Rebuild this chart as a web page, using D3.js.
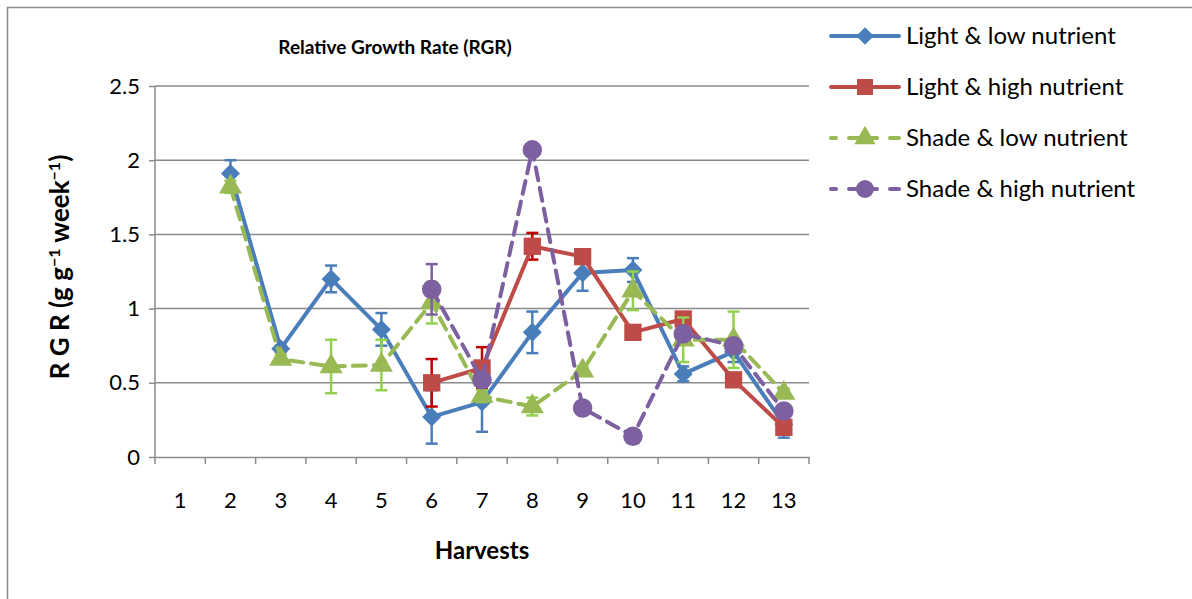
<!DOCTYPE html>
<html><head><meta charset="utf-8">
<script src="https://cdn.jsdelivr.net/npm/d3@7"></script>
<style>body{margin:0;background:#fff}svg{display:block}text{font-family:Lato,"Open Sans",sans-serif}</style>
</head><body><svg id="c" width="1192" height="599"></svg>
<script>
const harvests = [1,2,3,4,5,6,7,8,9,10,11,12,13];
const yTicks = [0,0.5,1,1.5,2,2.5];
const seriesNames = ["Light & low nutrient","Light & high nutrient","Shade & low nutrient","Shade & high nutrient"];
const lightLow  = [null,1.91,0.73,1.20,0.86,0.27,0.37,0.84,1.24,1.26,0.56,0.71,0.22];
const lightLowErr = [null,0.09,0.02,0.09,0.11,0.18,0.20,0.14,0.12,0.08,0.05,0.07,0.09];
const lightHigh = [null,null,null,null,null,0.50,0.60,1.42,1.35,0.84,0.93,0.52,0.20];
const lightHighErr = [null,null,null,null,null,0.16,0.14,0.09,0.03,0.03,0.03,0.03,0.03];
const shadeLow  = [null,1.82,0.66,0.61,0.62,1.04,0.41,0.34,0.58,1.12,0.79,0.79,0.43];
const shadeLowErr = [null,0.04,0.03,0.18,0.17,0.14,0.04,0.06,0.03,0.13,0.15,0.19,0.03];
const shadeHigh = [null,null,null,null,null,1.13,0.52,2.07,0.33,0.14,0.83,0.75,0.31];
const shadeHighErr = [null,null,null,null,null,0.17,0.03,0.03,0.03,0.03,0.03,0.03,0.03];

const svg = d3.select("#c");
const x = d3.scaleBand().domain(harvests).range([155,809]);
const y = d3.scaleLinear().domain([0,2.5]).range([457,86]);
const cx = d => x(d) + x.bandwidth()/2;

// outer border
svg.append("rect").attr("x",7.5).attr("y",7.5).attr("width",1200).attr("height",700)
  .attr("fill","none").attr("stroke","#8c8c8c").attr("stroke-width",1.5);

// gridlines
svg.append("g").selectAll("line").data(yTicks.filter(t=>t>0)).join("line")
  .attr("x1",155).attr("x2",809).attr("y1",d=>y(d)).attr("y2",d=>y(d))
  .attr("stroke","#8a8a8a").attr("stroke-width",1.5);

// y axis
const yAx = svg.append("g").attr("transform","translate(155,0)")
  .call(d3.axisLeft(y).tickValues(yTicks).tickFormat(d=>d).tickSize(6).tickPadding(9));
yAx.select(".domain").attr("stroke","#8a8a8a").attr("stroke-width",1.5).attr("d","M0,86V457");
yAx.selectAll(".tick line").attr("stroke","#8a8a8a").attr("stroke-width",1.5);
yAx.selectAll(".tick text").attr("font-size",22).attr("fill","#000").attr("font-family","Lato");

// x axis
const xAx = svg.append("g").attr("transform","translate(0,457)")
  .call(d3.axisBottom(x).tickSize(0).tickPadding(35));
xAx.select(".domain").attr("stroke","#8a8a8a").attr("stroke-width",1.5);
xAx.selectAll(".tick text").attr("font-size",22).attr("fill","#000").attr("font-family","Lato");
svg.append("g").selectAll("line").data(harvests.concat([14])).join("line")
  .attr("x1",d=>d===14? 809 : x(d)).attr("x2",d=>d===14? 809 : x(d))
  .attr("y1",457).attr("y2",464).attr("stroke","#8a8a8a").attr("stroke-width",1.5);

// titles
svg.append("text").attr("x",395).attr("y",54).attr("text-anchor","middle")
  .attr("font-size",19).attr("font-weight","bold").text("Relative Growth Rate (RGR)");
svg.append("text").attr("x",482).attr("y",559).attr("text-anchor","middle")
  .attr("font-size",24).attr("font-weight","bold").text("Harvests");
const yt = svg.append("text").attr("transform","translate(69,267) rotate(-90)")
  .attr("text-anchor","middle").attr("font-size",26).attr("font-weight","bold");
yt.append("tspan").text("R G R (g g");
yt.append("tspan").attr("baseline-shift","super").attr("font-size",16).text("−1");
yt.append("tspan").text(" week");
yt.append("tspan").attr("baseline-shift","super").attr("font-size",16).text("−1");
yt.append("tspan").text(")");

const series = [
  {name:seriesNames[0], vals:lightLow, err:lightLowErr, color:"#4A7EBB", ecolor:"#4A7EBB", dash:null, shape:"diamond"},
  {name:seriesNames[1], vals:lightHigh, err:lightHighErr, color:"#BE4B48", ecolor:"#C00000", dash:null, shape:"square"},
  {name:seriesNames[2], vals:shadeLow, err:shadeLowErr, color:"#98B954", ecolor:"#92D050", dash:"13,8", shape:"triangle"},
  {name:seriesNames[3], vals:shadeHigh, err:shadeHighErr, color:"#7D60A0", ecolor:"#7D60A0", dash:"13,8", shape:"circle"}
];
const diamondSym = {draw(ctx, size){ const r = Math.sqrt(size/2); ctx.moveTo(0,-r); ctx.lineTo(r,0); ctx.lineTo(0,r); ctx.lineTo(-r,0); ctx.closePath(); }};
const sym = {diamond:diamondSym, square:d3.symbolSquare, triangle:d3.symbolTriangle, circle:d3.symbolCircle};
const size = {diamond:180, square:300, triangle:230, circle:300};

series.forEach(s=>{
  const pts = harvests.map((h,i)=>({h, v:s.vals[i], e:s.err[i]})).filter(p=>p.v!=null);
  const g = svg.append("g");
  const eb = g.append("g").attr("stroke",s.ecolor).attr("stroke-width",2.5);
  pts.filter(p=>p.e!=null).forEach(p=>{
    eb.append("line").attr("x1",cx(p.h)).attr("x2",cx(p.h)).attr("y1",y(p.v+p.e)).attr("y2",y(p.v-p.e));
    [p.v+p.e,p.v-p.e].forEach(v=>eb.append("line").attr("x1",cx(p.h)-6).attr("x2",cx(p.h)+6).attr("y1",y(v)).attr("y2",y(v)));
  });
  g.append("path").datum(pts).attr("fill","none").attr("stroke",s.color).attr("stroke-width",4)
    .attr("stroke-dasharray",s.dash).attr("stroke-linecap",s.dash?"round":"butt").attr("stroke-linejoin","round")
    .attr("d",d3.line().x(p=>cx(p.h)).y(p=>y(p.v)));
  g.selectAll(".m").data(pts).join("path")
    .attr("transform",p=>`translate(${cx(p.h)},${y(p.v)})`)
    .attr("d",d3.symbol().type(sym[s.shape]).size(size[s.shape])).attr("fill",s.color);
});

// legend
const lg = svg.append("g");
const rowsY = [36,87,138,189];
series.forEach((s,i)=>{
  const yy = rowsY[i];
  lg.append("line").attr("x1",831).attr("x2",899).attr("y1",yy).attr("y2",yy)
    .attr("stroke",s.color).attr("stroke-width",4).attr("stroke-linecap","round")
    .attr("stroke-dasharray",s.dash?"5,13,28,13,5,0":null);
  lg.append("path").attr("transform",`translate(865,${yy})`)
    .attr("d",d3.symbol().type(sym[s.shape]).size(size[s.shape]*0.85)).attr("fill",s.color);
  lg.append("text").attr("x",906).attr("y",yy+8).attr("font-size",24).text(s.name);
});
</script></body></html>
